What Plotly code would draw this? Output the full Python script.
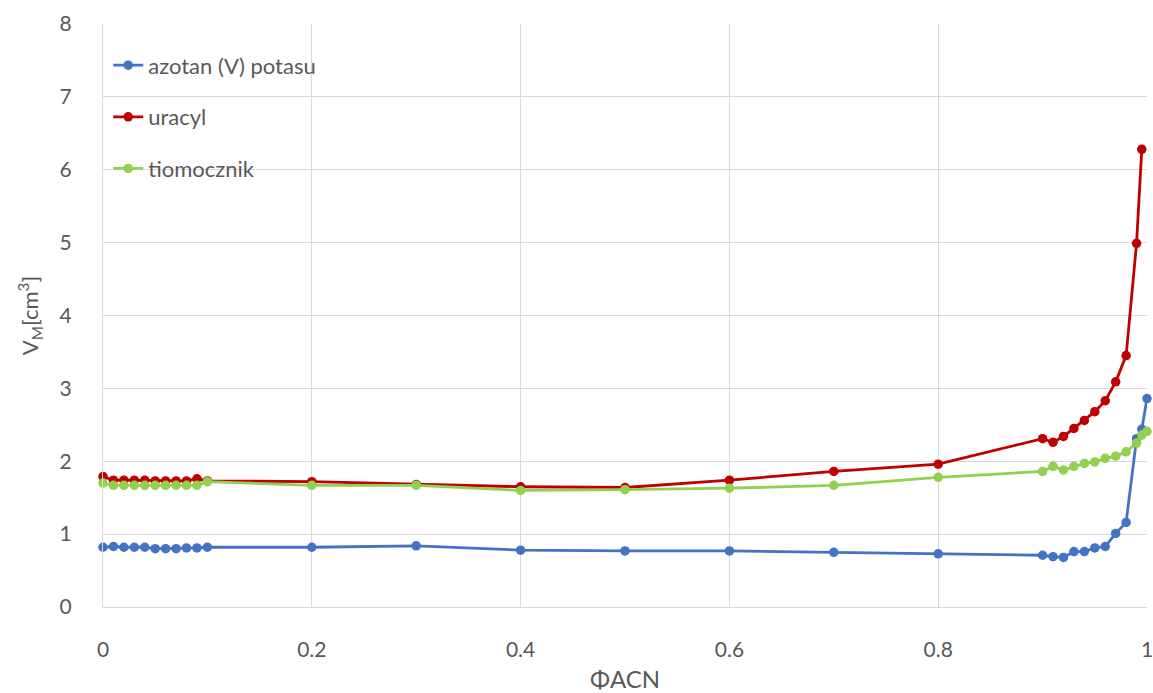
import plotly.graph_objects as go

# Composition of the mobile phase (volume fraction of acetonitrile)
phi_acn = [0.0, 0.01, 0.02, 0.03, 0.04, 0.05, 0.06, 0.07, 0.08, 0.09, 0.1,
           0.2, 0.3, 0.4, 0.5, 0.6, 0.7, 0.8,
           0.9, 0.91, 0.92, 0.93, 0.94, 0.95, 0.96, 0.97, 0.98, 0.99, 0.995, 1.0]

# Dead volume V_M [cm3] determined with each marker
vm_azotan = [0.82, 0.83, 0.82, 0.82, 0.82, 0.80, 0.80, 0.80, 0.81, 0.81, 0.82,
             0.82, 0.84, 0.78, 0.77, 0.77, 0.75, 0.73,
             0.71, 0.69, 0.68, 0.76, 0.76, 0.81, 0.83, 1.01, 1.16, 2.31, 2.44, 2.86]
vm_uracyl = [1.79, 1.74, 1.74, 1.74, 1.74, 1.73, 1.73, 1.73, 1.73, 1.76, 1.73,
             1.72, 1.68, 1.65, 1.64, 1.74, 1.86, 1.96,
             2.31, 2.26, 2.34, 2.45, 2.56, 2.68, 2.83, 3.09, 3.45, 4.99, 6.28]
vm_tiomocznik = [1.70, 1.67, 1.67, 1.67, 1.67, 1.67, 1.67, 1.67, 1.67, 1.67, 1.72,
                 1.67, 1.67, 1.60, 1.61, 1.63, 1.67, 1.78,
                 1.86, 1.93, 1.88, 1.93, 1.97, 1.99, 2.04, 2.07, 2.13, 2.25, 2.36, 2.41]

series = [
    ("azotan (V) potasu", vm_azotan, "#4472C4"),
    ("uracyl", vm_uracyl, "#C00000"),
    ("tiomocznik", vm_tiomocznik, "#92D050"),
]

FONT = "Lato"
GREY = "#595959"

fig = go.Figure()
for i, (name, vals, color) in enumerate(series):
    fig.add_trace(go.Scatter(
        x=phi_acn[:len(vals)], y=vals, name=name,
        mode="lines+markers",
        line=dict(color=color, width=2.8),
        marker=dict(color=color, size=9.5),
        legendgroup=f"g{i}",
        cliponaxis=False,
    ))

fig.update_layout(
    width=1153, height=693,
    margin=dict(l=103, r=6, t=24, b=86),
    plot_bgcolor="white", paper_bgcolor="white",
    font=dict(family=FONT, size=21, color=GREY),
    legend=dict(
        x=0.005, y=0.965, xanchor="left", yanchor="top",
        bgcolor="rgba(0,0,0,0)", font=dict(size=22, color=GREY),
        tracegroupgap=20, itemwidth=30,
    ),
    xaxis=dict(
        range=[0, 1], tickvals=[0, 0.2, 0.4, 0.6, 0.8, 1],
        ticktext=["0", "0.2", "0.4", "0.6", "0.8", "1"],
        showgrid=True, gridcolor="#D9D9D9", gridwidth=1,
        zeroline=False, showline=True, linecolor="#D9D9D9",
        ticks="", ticklabelstandoff=24,
        automargin=False, ticklabeloverflow="allow",
        title=dict(text="ΦACN", font=dict(size=24, color=GREY), standoff=12),
    ),
    yaxis=dict(
        range=[0, 8], dtick=1,
        showgrid=True, gridcolor="#D9D9D9", gridwidth=1,
        zeroline=False, showline=True, linecolor="#D9D9D9",
        ticks="", ticklabelstandoff=26,
        automargin=False,
        title=dict(text="V<sub>M</sub>[cm<sup>3</sup>]", font=dict(size=22, color=GREY), standoff=14),
    ),
)

fig.write_html("out.html")
